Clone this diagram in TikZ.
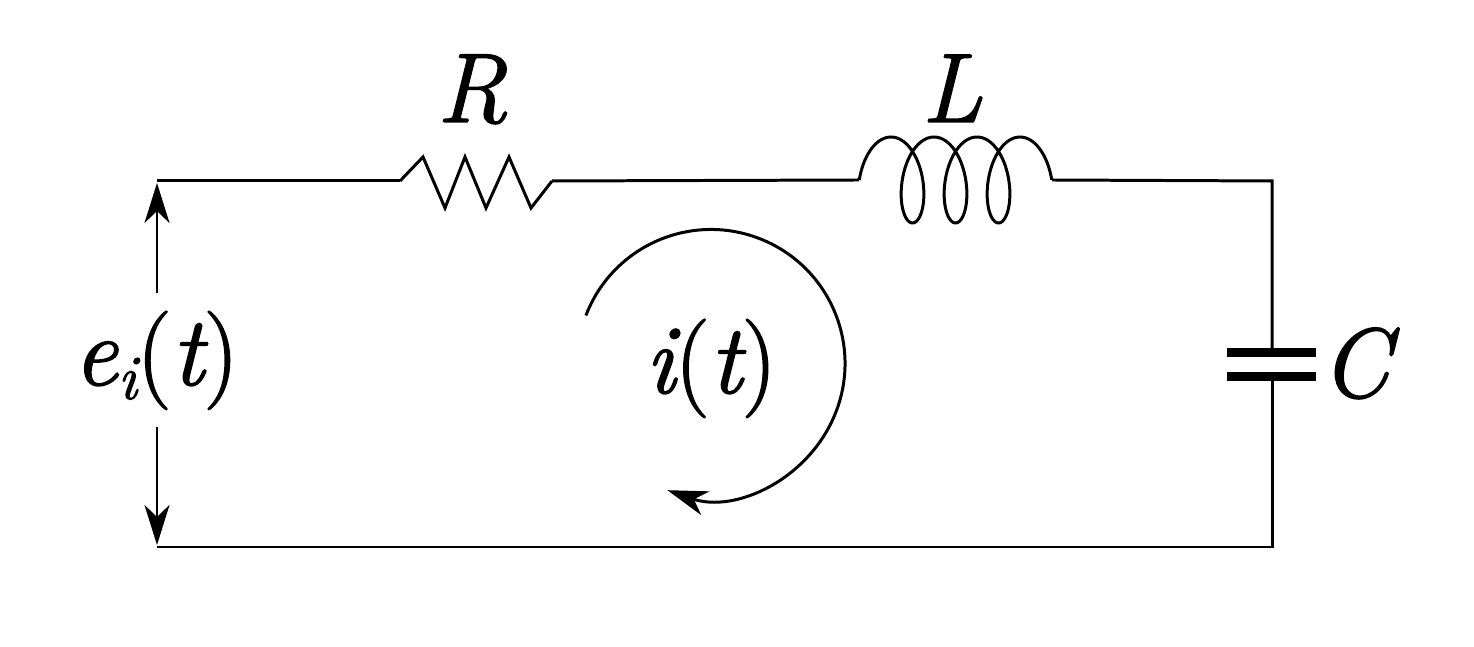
\documentclass[tikz,border=0pt]{standalone}
\usepackage{fontspec}
\newfontfamily\tnr{Latin Modern Roman}[ItalicFeatures={FakeBold=1.5}, UprightFeatures={FakeBold=1.5}]
\usetikzlibrary{arrows.meta}
\newcommand\up[1]{{\upshape #1}}
\begin{document}
\begin{tikzpicture}[x=0.01cm,y=0.01cm,
  wire/.style={line width=0.85pt, line join=miter},
  lab/.style={font=\tnr\fontsize{28}{31}\selectfont\itshape, inner sep=0pt},
  tip/.style={-{Stealth[length=0.4cm,width=0.25cm,inset=0.12cm]}},
  plate/.style={fill=black, draw=none}]
\useasboundingbox (0,0) rectangle (1474,646);
% corner and terminal coordinates
\coordinate (TL) at (157,465);
\coordinate (TR) at (1272,465);
\coordinate (BL) at (157,99);
\coordinate (BR) at (1272,99);
\coordinate (Ra) at (400,465);
\coordinate (Rb) at (552,465);
\coordinate (La) at (859,466);
\coordinate (Lb) at (1052,466);
\coordinate (Ca) at (1272,298);
\coordinate (Cb) at (1272,265);
% wires
\draw[wire] (TL) -- (Ra);
\draw[wire] (Rb) -- (La);
\draw[wire] (Lb) -- (TR) -- (Ca);
\draw[wire] (Cb) -- (BR) -- (BL);
% resistor
\draw[wire] (Ra) -- (423,489) -- (445,438) -- (465,489) -- (486,438) -- (509,489) -- (531,438) -- (Rb);
% inductor
\draw[wire, smooth] plot[domain=-pi/2:6.5*pi, samples=240, variable=\t]
  ({891 + 43*\t/(2*pi) + 21*sin(\t r)}, {466 + 43*cos(\t r)});
% capacitor plates
\fill[plate] (1227,289) rectangle (1316,298);
\fill[plate] (1227,265) rectangle (1316,274);
% labels
\node[lab, anchor=base] (Rlab) at (472,524) {R};
\node[lab, anchor=base] (Llab) at (952,524) {L};
\node[lab, anchor=base west] (Clab) at (1320,249) {C};
\node[lab, anchor=base] (ei) at (156,261) {e\raisebox{-4pt}{\fontsize{18}{18}\selectfont i}\up{(}t\up{)}};
\node[lab, anchor=base] (it) at (711,253) {i\up{(}t\up{)}};
% source voltage arrows
\coordinate (upS) at (157,353);
\coordinate (dnS) at (157,219);
\coordinate (upE) at (157,463);
\coordinate (dnE) at (157,101);
\draw[wire, tip] (upS) -- (upE);
\draw[wire, tip] (dnS) -- (dnE);
% current loop arrow
\draw[wire, tip] (711,282.5) ++(159:134) arc[start angle=159, end angle=-109, radius=134];
\end{tikzpicture}
\end{document}
